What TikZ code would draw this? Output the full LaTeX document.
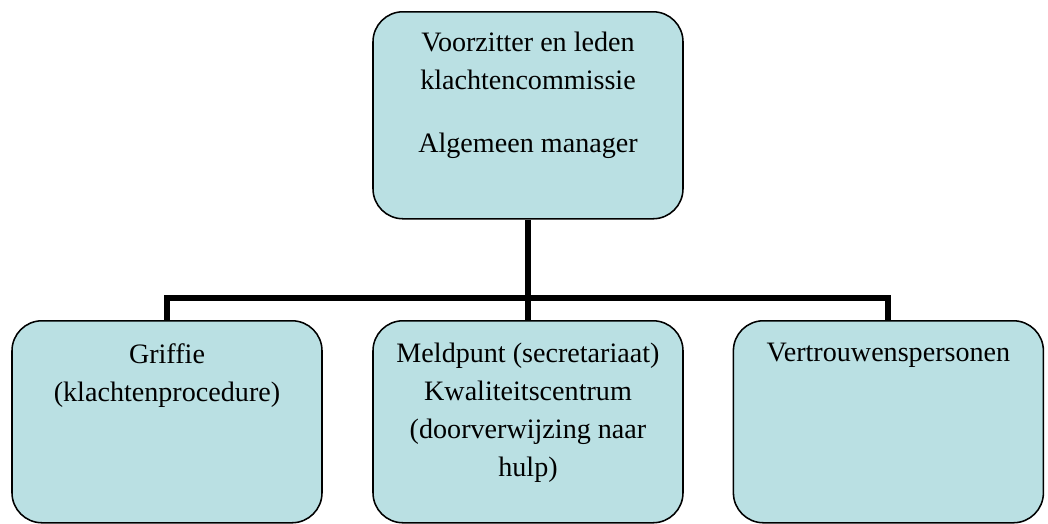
\documentclass[tikz,border=0pt]{standalone}
\usepackage{fontspec}
\setmainfont{Liberation Serif}
\definecolor{boxblue}{RGB}{186,224,227}
\newcommand{\boxtext}[3]{\parbox[c][#1][t]{7.75cm}{\centering\vspace*{#2}#3}}
\begin{document}
\begin{tikzpicture}[thick,unit/.style={draw,fill=boxblue,line width=1.1pt,rounded corners=0.75cm,inner sep=0pt,anchor=north,font=\fontsize{20}{27}\selectfont},conn/.style={line width=4.3pt}]
\useasboundingbox (0,0) rectangle (26.2,-13.1);
\node [unit] (board) at (13.2,-0.275) {\boxtext{5.175cm}{14.5pt}{Voorzitter en leden\\ klachtencommissie\\[18pt] Algemeen manager}};
\node [unit] (registry) at (4.175,-8.0) {\boxtext{5.05cm}{16pt}{Griffie\\ (klachtenprocedure)}};
\node [unit] (desk) at (13.2,-8.0) {\boxtext{5.05cm}{16pt}{Meldpunt (secretariaat)\\ Kwaliteitscentrum\\ (doorverwijzing naar\\ hulp)}};
\node [unit] (confidants) at (22.21,-8.0) {\boxtext{5.05cm}{16pt}{Vertrouwenspersonen}};
\coordinate (bus) at (13.2,-7.45);
\draw [conn] (board.south) -- (desk.north);
\draw [conn] (registry.north) |- (bus) -| (confidants.north);
\end{tikzpicture}
\end{document}
